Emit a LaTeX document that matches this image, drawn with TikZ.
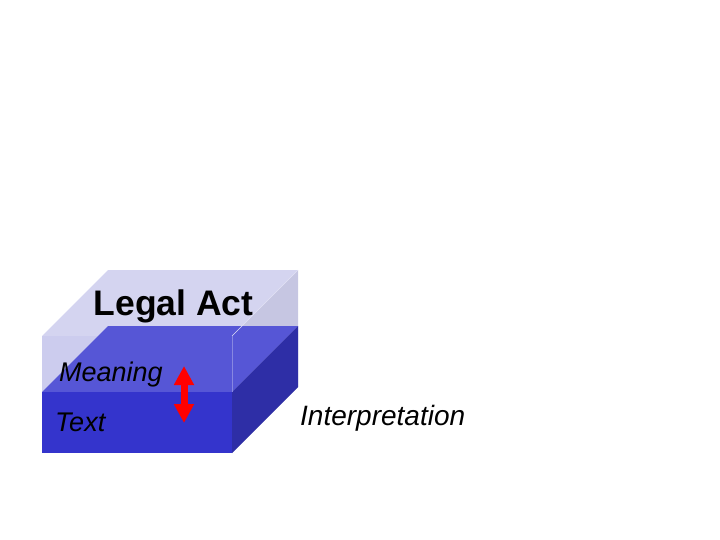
\documentclass[tikz,border=0pt]{standalone}
\usepackage{fontspec}
\setmainfont{Liberation Sans}
\usetikzlibrary{arrows.meta}
\definecolor{ltop}{RGB}{212,212,240}
\definecolor{lfront}{RGB}{204,204,238}
\definecolor{lright}{RGB}{198,198,226}
\definecolor{dtop}{RGB}{86,86,214}
\definecolor{dfront}{RGB}{52,52,204}
\definecolor{dright}{RGB}{46,46,166}
\definecolor{ledge}{RGB}{225,225,245}
\tikzset{
  lbl/.style={anchor=base west, inner sep=0pt, font=\itshape\fontsize{27}{27}\selectfont},
}
\begin{document}
\begin{tikzpicture}[x=1pt,y=-1pt]
\useasboundingbox (0,0) rectangle (720,540);
% outer light box
\fill[ltop] (108,270) -- (298,270) -- (232,336) -- (42,336) -- cycle;
\fill[lfront] (42,336) rectangle (232,453);
\fill[lright] (232,336) -- (298,270) -- (298,387) -- (232,453) -- cycle;
% inner dark box
\fill[dtop] (108,326) -- (298,326) -- (232,392) -- (42,392) -- cycle;
\fill[dfront] (42,392) rectangle (232,453);
\fill[dright] (232,392) -- (298,326) -- (298,387) -- (232,453) -- cycle;
% faint edges of outer box
\draw[ledge, line width=0.5pt] (232,336) -- (298,270);
\draw[ledge!35!dtop, line width=0.5pt] (232,336) -- (232,392);
% texts
\node[anchor=base, inner sep=0pt, font=\bfseries\fontsize{35.5}{35.5}\selectfont] (title) at (173.5,315) {Legal Act};
\node[lbl] (meaning) at (59,381) {Meaning};
\node[lbl] (text) at (55,431) {Text};
\node[lbl, font=\itshape\fontsize{28}{28}\selectfont] (interp) at (300,425) {Interpretation};
% double arrow
\coordinate (atop) at (184,366);
\coordinate (abot) at (184,423);
\draw[red, line width=7pt, {Triangle[width=19pt,length=19pt]}-{Triangle[width=19pt,length=19pt]}] (atop) -- (abot);
\end{tikzpicture}
\end{document}
